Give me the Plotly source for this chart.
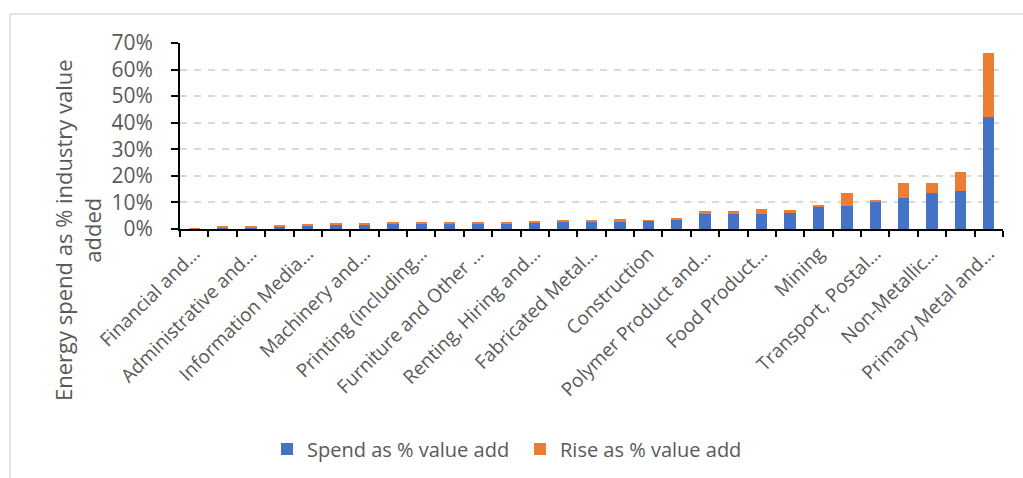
import plotly.graph_objects as go

# Industries, ordered by energy spend as a share of value added
categories = [
    "Financial and Insurance Services",
    "Professional, Scientific and Technical Services",
    "Administrative and Support Services",
    "Health Care and Social Assistance",
    "Information Media and Telecommunications",
    "Retail Trade",
    "Machinery and Equipment Manufacturing",
    "Wholesale Trade",
    "Printing (including the Reproduction of Recorded Media)",
    "Transport Equipment Manufacturing",
    "Furniture and Other Manufacturing",
    "Accommodation and Food Services",
    "Renting, Hiring and Real Estate Services",
    "Textile, Leather, Clothing and Footwear Manufacturing",
    "Fabricated Metal Product Manufacturing",
    "Beverage and Tobacco Product Manufacturing",
    "Construction",
    "Wood Product Manufacturing",
    "Polymer Product and Rubber Product Manufacturing",
    "Basic Chemical and Chemical Product Manufacturing",
    "Food Product Manufacturing",
    "Pulp, Paper and Converted Paper Product Manufacturing",
    "Mining",
    "Agriculture, Forestry and Fishing",
    "Transport, Postal and Warehousing",
    "Petroleum and Coal Product Manufacturing",
    "Non-Metallic Mineral Product Manufacturing",
    "Electricity, Gas, Water and Waste Services",
    "Primary Metal and Metal Product Manufacturing",
]

# Shortened labels shown on every second category
tick_labels = [
    "Financial and…", "Administrative and…", "Information Media…",
    "Machinery and…", "Printing (including…", "Furniture and Other …",
    "Renting, Hiring and…", "Fabricated Metal…", "Construction",
    "Polymer Product and…", "Food Product…", "Mining",
    "Transport, Postal…", "Non-Metallic…", "Primary Metal and…",
]

spend = [0.001, 0.006, 0.006, 0.010, 0.0125, 0.0175, 0.0175, 0.021, 0.021,
         0.021, 0.021, 0.021, 0.025, 0.0275, 0.029, 0.029, 0.031, 0.034,
         0.055, 0.058, 0.058, 0.060, 0.081, 0.088, 0.103, 0.115, 0.134,
         0.142, 0.423]
rise = [0.002, 0.003, 0.003, 0.002, 0.005, 0.0025, 0.0025, 0.005, 0.005,
        0.005, 0.002, 0.004, 0.0025, 0.0075, 0.006, 0.007, 0.001, 0.007,
        0.014, 0.010, 0.018, 0.011, 0.010, 0.047, 0.006, 0.059, 0.039,
        0.072, 0.240]

FONT = "Open Sans"
GREY_TEXT = "#595959"

ticktext = []
label_iter = iter(tick_labels)
for i, _ in enumerate(categories):
    ticktext.append(next(label_iter) if i % 2 == 0 else "")

fig = go.Figure()
fig.add_bar(x=categories, y=spend, name="Spend as % value add",
            marker=dict(color="#4472C4", line=dict(width=0)))
fig.add_bar(x=categories, y=rise, name="Rise as % value add",
            marker=dict(color="#ED7D31", line=dict(width=0)))

W, H = 1023, 478
ML, MR, MT, MB = 180, 20, 43, 249
pw, ph = W - ML - MR, H - MT - MB


def px_x(x):
    return (x - ML) / pw


def px_y(y):
    return (H - MB - y) / ph


fig.update_layout(
    width=W, height=H,
    margin=dict(l=ML, r=MR, t=MT, b=MB, pad=0, autoexpand=False),
    barmode="stack", bargap=0.6,
    paper_bgcolor="white", plot_bgcolor="white",
    font=dict(family=FONT, color=GREY_TEXT),
    showlegend=True,
    legend=dict(orientation="h", x=px_x(267), xanchor="left",
                y=px_y(449), yanchor="middle",
                font=dict(size=20, color=GREY_TEXT),
                entrywidth=208, itemwidth=30, traceorder="normal"),
    xaxis=dict(
        type="category", tickmode="array", tickvals=categories,
        ticktext=ticktext, tickangle=-45, tickson="boundaries",
        ticks="outside", ticklen=6, tickwidth=2, tickcolor="black",
        showline=True, linecolor="black", linewidth=2,
        showgrid=False, tickfont=dict(size=19, color=GREY_TEXT),
        ticklabelstandoff=4,
        range=[-0.5, len(categories) - 0.5], automargin=False,
    ),
    yaxis=dict(
        range=[0, 0.70], dtick=0.1, tickformat=".0%",
        ticks="outside", ticklen=7, tickwidth=2, tickcolor="black",
        showline=True, linecolor="black", linewidth=2,
        showgrid=True, gridcolor="#d9d9d9", gridwidth=1.5,
        griddash="7px,7px", zeroline=False, automargin=False,
        tickfont=dict(size=21, color=GREY_TEXT), ticklabelstandoff=14,
    ),
    annotations=[dict(
        text="Energy spend as % industry value<br>added",
        textangle=-90, xref="paper", yref="paper",
        x=px_x(77), y=px_y(230), xanchor="center", yanchor="middle",
        showarrow=False, font=dict(size=22, color=GREY_TEXT),
    )],
    shapes=[
        dict(type="line", xref="paper", yref="paper",
             x0=px_x(10), x1=px_x(1040), y0=px_y(14), y1=px_y(14),
             line=dict(color="#d9d9d9", width=1.5)),
        dict(type="line", xref="paper", yref="paper",
             x0=px_x(10), x1=px_x(10), y0=px_y(14), y1=px_y(500),
             line=dict(color="#d9d9d9", width=1.5)),
    ],
)

fig.write_html("out.html")
